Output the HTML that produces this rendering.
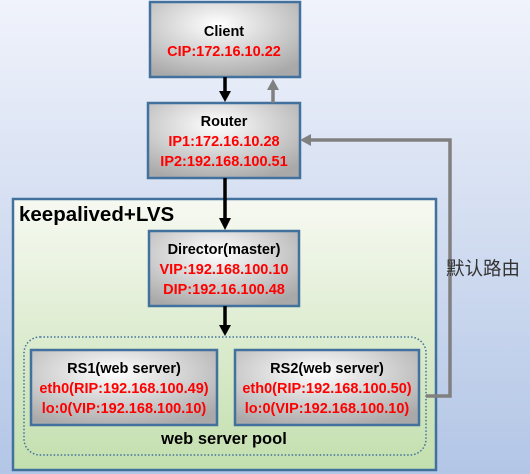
<!DOCTYPE html>
<html><head><meta charset="utf-8"><style>
html,body{margin:0;padding:0;}
body{width:530px;height:474px;overflow:hidden;}
svg{display:block;}
text{font-family:"Liberation Sans","Noto Sans CJK SC",sans-serif;}
</style></head><body>
<svg width="530" height="474" viewBox="0 0 530 474" xmlns="http://www.w3.org/2000/svg">
<defs>
<linearGradient id="bg" x1="0" y1="0" x2="0" y2="1">
<stop offset="0" stop-color="#f0f3fb"/><stop offset="1" stop-color="#b3c6e6"/>
</linearGradient>
<linearGradient id="grn" x1="0" y1="0" x2="0" y2="1">
<stop offset="0" stop-color="#f7f9f2"/><stop offset="1" stop-color="#c3dfae"/>
</linearGradient>
<radialGradient id="box" cx="0.45" cy="0.3" r="0.75">
<stop offset="0" stop-color="#ffffff"/><stop offset="1" stop-color="#a9a9a9"/>
</radialGradient>
</defs>
<rect width="530" height="474" fill="url(#bg)"/>
<rect x="13" y="199" width="423" height="271" fill="url(#grn)" stroke="#41719c" stroke-width="2.5"/>
<text x="19" y="221" font-size="20.5" font-weight="bold" fill="#000">keepalived+LVS</text>
<rect x="24" y="337" width="402" height="118" rx="16" fill="none" stroke="#41719c" stroke-width="1.5" stroke-dasharray="1.5,2"/>

<g stroke="#41719c" stroke-width="2.5" fill="url(#box)">
<rect x="150" y="2" width="150" height="75"/>
<rect x="148" y="103" width="152" height="75"/>
<rect x="149" y="231" width="150" height="75"/>
<rect x="31" y="350" width="186" height="75"/>
<rect x="235" y="350" width="184" height="75"/>
</g>

<g font-weight="bold" font-size="14.5" text-anchor="middle">
<text x="224" y="36" fill="#000">Client</text>
<text x="224" y="56" fill="#ff0000">CIP:172.16.10.22</text>
<text x="224" y="126" fill="#000">Router</text>
<text x="224" y="146" fill="#ff0000">IP1:172.16.10.28</text>
<text x="224" y="166" fill="#ff0000">IP2:192.168.100.51</text>
<text x="224" y="254" fill="#000">Director(master)</text>
<text x="224" y="274" fill="#ff0000">VIP:192.168.100.10</text>
<text x="224" y="294" fill="#ff0000">DIP:192.16.100.48</text>
<text x="124" y="373" fill="#000">RS1(web server)</text>
<text x="124" y="393" fill="#ff0000">eth0(RIP:192.168.100.49)</text>
<text x="124" y="413" fill="#ff0000">lo:0(VIP:192.168.100.10)</text>
<text x="327" y="373" fill="#000">RS2(web server)</text>
<text x="327" y="393" fill="#ff0000">eth0(RIP:192.168.100.50)</text>
<text x="327" y="413" fill="#ff0000">lo:0(VIP:192.168.100.10)</text>
<text x="224" y="444" fill="#000" font-size="16.5">web server pool</text>
</g>

<g stroke="#000" stroke-width="3.5" fill="none">
<line x1="225" y1="77" x2="225" y2="92"/>
<line x1="225" y1="178" x2="225" y2="219"/>
<line x1="225" y1="306" x2="225" y2="326"/>
</g>
<g fill="#000">
<polygon points="219,91 231,91 225,102"/>
<polygon points="219,218 231,218 225,230"/>
<polygon points="219,325 231,325 225,336"/>
</g>

<g stroke="#808080" stroke-width="3.5" fill="none">
<line x1="273" y1="103" x2="273" y2="89"/>
<polyline points="426,396 450,396 450,140 310,140"/>
</g>
<g fill="#808080">
<polygon points="267,90 279,90 273,79"/>
<polygon points="311,134 311,146 300,140"/>
</g>
<text x="446" y="275" font-size="18.5" fill="#333" font-family="'Noto Sans CJK SC','WenQuanYi Zen Hei',sans-serif">默认路由</text>
</svg>
</body></html>
